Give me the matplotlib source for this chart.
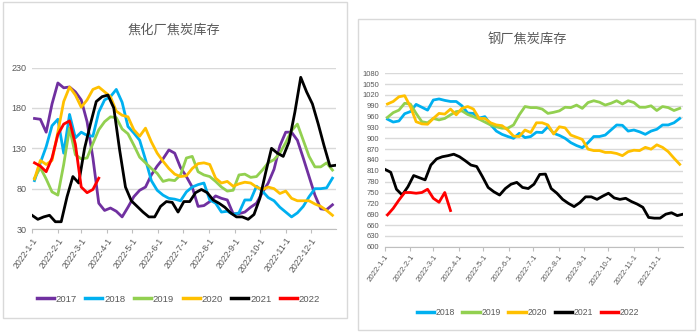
import matplotlib
matplotlib.use('Agg')
import matplotlib.pyplot as plt
import matplotlib.dates as mdates
from matplotlib.patches import Rectangle
from matplotlib.lines import Line2D
import pandas as pd

plt.rcParams['font.family'] = ['Liberation Sans', 'Noto Sans CJK SC', 'DejaVu Sans']

# ---------------- data ----------------
years_left = ['2017', '2018', '2019', '2020', '2021', '2022']
years_right = ['2018', '2019', '2020', '2021', '2022']
colors = {'2017': '#7030A0', '2018': '#00B0F0', '2019': '#92D050',
          '2020': '#FFC000', '2021': '#000000', '2022': '#FF0000'}

month_labels = ['2022-1-1', '2022-2-1', '2022-3-1', '2022-4-1', '2022-5-1', '2022-6-1',
                '2022-7-1', '2022-8-1', '2022-9-1', '2022-10-1', '2022-11-1', '2022-12-1']

# 焦化厂焦炭库存 (left)
coke_2017 = [167, 166, 150, 185, 211, 205, 206, 200, 190, 163, 118, 62, 53, 56, 52, 45, 57, 70,
             78, 82, 97, 108, 117, 128, 124, 106, 95, 82, 58, 59, 64, 71, 68, 66, 49, 49, 51, 57,
             62, 75, 87, 104, 133, 150, 150, 140, 118, 95, 72, 55, 54, 60]
coke_2018 = [90, 112, 132, 158, 166, 124, 172, 143, 150, 146, 145, 175, 190, 194, 203, 187, 157,
             149, 140, 116, 90, 78, 72, 68, 67, 65, 76, 82, 85, 87, 66, 62, 51, 52, 48, 50, 66, 66,
             83, 77, 69, 65, 57, 51, 45, 50, 58, 70, 80, 80, 81, 93]
coke_2019 = [93, 106, 92, 76, 72, 110, 155, 122, 117, 118, 136, 153, 163, 169, 168, 154, 148,
             134, 119, 112, 105, 99, 89, 91, 90, 97, 118, 120, 101, 97, 95, 89, 82, 77, 78, 97, 98,
             94, 95, 103, 112, 116, 124, 137, 152, 160, 140, 120, 107, 107, 112, 103]
coke_2020 = [92, 115, 110, 115, 150, 188, 206, 196, 181, 190, 203, 206, 200, 194, 176, 171, 169,
             153, 145, 155, 138, 124, 114, 105, 98, 95, 96, 105, 111, 112, 110, 93, 87, 89, 83, 86,
             88, 87, 82, 79, 82, 80, 74, 77, 68, 65, 65, 65, 61, 58, 53, 47]
coke_2021 = [47, 42, 45, 47, 39, 39, 70, 95, 87, 130, 160, 188, 194, 196, 180, 128, 82, 65, 58,
             51, 45, 45, 58, 64, 63, 51, 64, 64, 75, 79, 75, 66, 62, 57, 50, 45, 45, 42, 48, 68,
             100, 130, 124, 120, 138, 175, 218, 200, 185, 160, 133, 108, 109]
coke_2022 = [112, 108, 101, 118, 147, 160, 164, 135, 82, 75, 79, 93]

# 钢厂焦炭库存 (right)
steel_2018 = [953, 945, 948, 968, 974, 994, 986, 978, 1006, 1009, 1005, 1002, 1002, 990, 970,
              969, 956, 960, 938, 920, 911, 905, 900, 914, 902, 905, 917, 916, 932, 914, 908, 900,
              888, 880, 874, 888, 905, 905, 909, 923, 937, 936, 920, 923, 918, 911, 920, 925, 937,
              937, 943, 955]
steel_2019 = [958, 971, 978, 997, 995, 969, 946, 943, 955, 951, 955, 965, 974, 976, 966, 960,
              953, 945, 937, 932, 928, 928, 937, 965, 988, 985, 985, 981, 969, 972, 976, 986, 985,
              992, 983, 999, 1004, 1000, 992, 997, 1004, 995, 1004, 999, 986, 986, 990, 977, 988,
              985, 977, 983]
steel_2020 = [995, 1002, 1015, 1018, 988, 946, 940, 939, 955, 969, 967, 981, 965, 983, 988, 981,
              955, 955, 943, 937, 935, 923, 906, 905, 923, 916, 943, 943, 937, 912, 932, 929, 909,
              903, 897, 870, 866, 866, 861, 861, 858, 852, 863, 867, 866, 875, 870, 882, 875, 863,
              845, 828]
steel_2021 = [814, 806, 759, 743, 766, 797, 791, 785, 826, 843, 849, 852, 856, 849, 838, 826,
              822, 794, 764, 752, 743, 761, 773, 778, 764, 761, 773, 800, 801, 761, 748, 731, 720,
              711, 722, 738, 738, 731, 740, 748, 735, 731, 734, 725, 718, 709, 681, 679, 679, 690,
              694, 686, 690]
steel_2022 = [688, 706, 729, 750, 750, 748, 750, 759, 734, 723, 750, 700]

left_series = {'2017': coke_2017, '2018': coke_2018, '2019': coke_2019,
               '2020': coke_2020, '2021': coke_2021, '2022': coke_2022}
right_series = {'2018': steel_2018, '2019': steel_2019, '2020': steel_2020,
                '2021': steel_2021, '2022': steel_2022}


def dates_for(year, n):
    start = '2022-01-01' if year == '2021' else '2022-01-04'
    return pd.date_range(start, periods=n, freq='7D')


TXT = '#595959'
GRID = '#D9D9D9'

fig = plt.figure(figsize=(7.0, 3.35), dpi=100)

# panel frames
fig.add_artist(Rectangle((0.0043, 0.0507), 0.491, 0.943, transform=fig.transFigure,
                         fill=False, ec=GRID, lw=1))
fig.add_artist(Rectangle((0.5114, 0.0149), 0.4814, 0.928, transform=fig.transFigure,
                         fill=False, ec=GRID, lw=1))


def style_axes(ax, ylim, yticks, ysize, xsize):
    ax.set_xlim(pd.Timestamp('2022-01-01'), pd.Timestamp('2022-12-31'))
    ax.set_ylim(*ylim)
    ax.set_yticks(yticks)
    ax.grid(axis='y', color=GRID, lw=1)
    ax.set_axisbelow(True)
    for s in ['top', 'right', 'left']:
        ax.spines[s].set_visible(False)
    ax.spines['bottom'].set_color('#BFBFBF')
    ax.spines['bottom'].set_zorder(0)
    ticks = pd.date_range('2022-01-01', periods=12, freq='MS')
    ax.set_xticks(ticks)
    ax.set_xticklabels(month_labels, rotation=55, ha='right', rotation_mode='anchor',
                       fontsize=xsize, color=TXT)
    ax.tick_params(axis='x', length=3, color='#BFBFBF', pad=2)
    ax.tick_params(axis='y', length=0, labelsize=ysize, labelcolor=TXT, pad=4)


# left chart
axL = fig.add_axes([0.0457, 0.3164, 0.434, 0.4817])
for y in years_left:
    v = left_series[y]
    axL.plot(dates_for(y, len(v)), v, color=colors[y], lw=2, solid_joinstyle='round')
style_axes(axL, (30, 230), [30, 80, 130, 180, 230], 6.5, 6.3)
fig.text(0.249, 0.91, '焦化厂焦炭库存', ha='center', va='center', fontsize=9.5,
         color=TXT, family=['Noto Sans CJK SC'])
hL = [Line2D([], [], color=colors[y], lw=2.5) for y in years_left]
fig.legend(hL, years_left, loc='center', bbox_to_anchor=(0.255, 0.107), ncol=6,
           frameon=False, fontsize=6.8, handlelength=1.8, handletextpad=0.2,
           columnspacing=0.9, labelcolor=TXT)

# right chart
axR = fig.add_axes([0.55, 0.2636, 0.4257, 0.5176])
for y in years_right:
    v = right_series[y]
    axR.plot(dates_for(y, len(v)), v, color=colors[y], lw=2, solid_joinstyle='round')
style_axes(axR, (600, 1080), list(range(600, 1081, 30)), 5.5, 5.6)
fig.text(0.753, 0.883, '钢厂焦炭库存', ha='center', va='center', fontsize=9.5,
         color=TXT, family=['Noto Sans CJK SC'])
hR = [Line2D([], [], color=colors[y], lw=2.5) for y in years_right]
fig.legend(hR, years_right, loc='center', bbox_to_anchor=(0.754, 0.066), ncol=5,
           frameon=False, fontsize=6.2, handlelength=2.0, handletextpad=0.2,
           columnspacing=0.9, labelcolor=TXT)

fig.savefig('out.png', dpi=100)
